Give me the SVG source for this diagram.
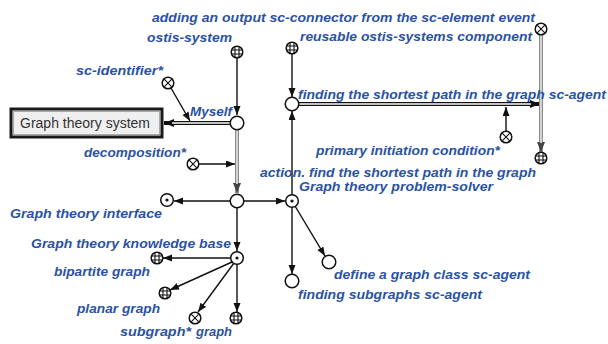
<svg xmlns="http://www.w3.org/2000/svg" xmlns:xlink="http://www.w3.org/1999/xlink" width="608" height="344" viewBox="0 0 608 344">
<style>
.lbl{font-family:"Liberation Sans",Arial,sans-serif;font-weight:bold;font-style:italic;font-size:13.5px;fill:#2a52a3}
.box{font-family:"Liberation Sans",Arial,sans-serif;font-size:14px;fill:#333}
.n{fill:#fff;stroke:#111;stroke-width:1.5}
.e{fill:none;stroke:#111;stroke-width:1.4}
.dbl{fill:none;stroke:#111;stroke-width:4}
.dbli{fill:none;stroke:#fff;stroke-width:1.6}
.gry{fill:none;stroke:#8c8c8c;stroke-width:4}
.gryi{fill:none;stroke:#dcdcdc;stroke-width:1.8}
.sym{fill:none;stroke:#111;stroke-width:1.1}
</style>
<defs>
<marker id="ah" markerUnits="userSpaceOnUse" markerWidth="10" markerHeight="8" refX="9" refY="3.5" orient="auto"><path d="M0,0 L9,3.5 L0,7 z" fill="#111"/></marker>
<marker id="ahd" markerUnits="userSpaceOnUse" markerWidth="11" markerHeight="9" refX="10" refY="4" orient="auto"><path d="M0,0 L10,4 L0,8 z" fill="#111"/></marker>
<marker id="ahg" markerUnits="userSpaceOnUse" markerWidth="11" markerHeight="9" refX="10" refY="4" orient="auto"><path d="M0,0 L10,4 L0,8 z" fill="#444"/></marker>
<g id="grid"><circle r="5.8" class="n"/><path class="sym" d="M-2,-5.2 V5.2 M2,-5.2 V5.2 M-5.2,-2 H5.2 M-5.2,2 H5.2"/></g>
<g id="cross"><circle r="5.8" class="n"/><path class="sym" d="M-3.8,-3.8 L3.8,3.8 M-3.8,3.8 L3.8,-3.8"/></g>
<g id="dot"><circle r="6.3" class="n"/><circle r="1.6" fill="#111"/></g>
<g id="plain"><circle r="6.8" class="n"/></g>
</defs>

<g id="connectors">
<path class="e" d="M237,58 V115" marker-end="url(#ah)"/>
<path class="e" d="M171,88 L190,121" marker-end="url(#ah)"/>
<path class="dbl" d="M230,123 H164" marker-end="url(#ahd)"/>
<path class="dbli" d="M230,123 H172"/>
<path class="gry" d="M237,130 V193" marker-end="url(#ahg)"/>
<path class="gryi" d="M237,130 V184"/>
<path class="e" d="M199,164 H235" marker-end="url(#ah)"/>
<path class="e" d="M230,201 H174" marker-end="url(#ah)"/>
<path class="e" d="M244,201 H285" marker-end="url(#ah)"/>
<path class="e" d="M237,208 V251" marker-end="url(#ah)"/>
<path class="e" d="M231,258 H163" marker-end="url(#ah)"/>
<path class="e" d="M232,262 L170,290" marker-end="url(#ah)"/>
<path class="e" d="M234,263 L198,312" marker-end="url(#ah)"/>
<path class="e" d="M237,264 V312" marker-end="url(#ah)"/>
<path class="e" d="M292,195 V111" marker-end="url(#ah)"/>
<path class="e" d="M292,207 V274" marker-end="url(#ah)"/>
<path class="e" d="M295,206 L325,256" marker-end="url(#ah)"/>
<path class="e" d="M292,54 V97" marker-end="url(#ah)"/>
<path class="dbl" d="M299,104 H540" marker-end="url(#ahd)"/>
<path class="dbli" d="M299,104 H531"/>
<path class="gry" d="M541,35 V152" marker-end="url(#ahg)"/>
<path class="gryi" d="M541,35 V143"/>
<path class="e" d="M506,131 V107" marker-end="url(#ah)"/>
</g>

<text class="lbl" x="152" y="22" textLength="383" lengthAdjust="spacingAndGlyphs">adding an output sc-connector from the sc-element event</text>

<g id="ostis-system"><use xlink:href="#grid" x="237" y="52"/><text class="lbl" x="147" y="42" textLength="85" lengthAdjust="spacingAndGlyphs">ostis-system</text></g>
<g id="reusable-component"><use xlink:href="#grid" x="292" y="48"/><text class="lbl" x="300" y="41" textLength="232" lengthAdjust="spacingAndGlyphs">reusable ostis-systems component</text></g>
<g id="event"><use xlink:href="#cross" x="541" y="29"/></g>
<g id="sc-identifier"><use xlink:href="#cross" x="168" y="83"/><text class="lbl" x="76" y="75" textLength="87" lengthAdjust="spacingAndGlyphs">sc-identifier*</text></g>
<g id="finding-shortest"><use xlink:href="#plain" x="292" y="104"/><text class="lbl" x="298" y="99" textLength="308" lengthAdjust="spacingAndGlyphs">finding the shortest path in the graph sc-agent</text></g>
<g id="myself"><use xlink:href="#plain" x="237" y="123"/><text class="lbl" x="190" y="116" textLength="42" lengthAdjust="spacingAndGlyphs">Myself</text></g>
<g id="graph-theory-system"><rect x="11" y="109" width="151" height="28" fill="#efefef" stroke="#1a1a1a" stroke-width="3"/><rect x="13.5" y="111.5" width="146" height="23" fill="none" stroke="#aaa" stroke-width="1"/><text class="box" x="20" y="128" textLength="130" lengthAdjust="spacingAndGlyphs">Graph theory system</text></g>
<g id="primary-initiation"><use xlink:href="#cross" x="506" y="137"/><text class="lbl" x="316" y="155" textLength="184" lengthAdjust="spacingAndGlyphs">primary initiation condition*</text></g>
<g id="decomposition"><use xlink:href="#cross" x="193" y="164"/><text class="lbl" x="84" y="157" textLength="102" lengthAdjust="spacingAndGlyphs">decomposition*</text></g>
<g id="action"><use xlink:href="#grid" x="541" y="158"/><text class="lbl" x="260" y="177" textLength="276" lengthAdjust="spacingAndGlyphs">action. find the shortest path in the graph</text></g>
<g id="interface"><use xlink:href="#dot" x="167" y="200"/><text class="lbl" x="10" y="218" textLength="152" lengthAdjust="spacingAndGlyphs">Graph theory interface</text></g>
<g id="center"><use xlink:href="#plain" x="237" y="201"/></g>
<g id="problem-solver"><use xlink:href="#dot" x="292" y="201"/><text class="lbl" x="299" y="191" textLength="194" lengthAdjust="spacingAndGlyphs">Graph theory problem-solver</text></g>
<g id="knowledge-base"><use xlink:href="#dot" x="237" y="258"/><text class="lbl" x="31" y="248" textLength="200" lengthAdjust="spacingAndGlyphs">Graph theory knowledge base</text></g>
<g id="bipartite"><use xlink:href="#grid" x="157" y="258"/><text class="lbl" x="54" y="276" textLength="96" lengthAdjust="spacingAndGlyphs">bipartite graph</text></g>
<g id="define-class"><use xlink:href="#plain" x="329" y="262"/><text class="lbl" x="334" y="279" textLength="196" lengthAdjust="spacingAndGlyphs">define a graph class sc-agent</text></g>
<g id="finding-subgraphs"><use xlink:href="#plain" x="292" y="281"/><text class="lbl" x="298" y="299" textLength="184" lengthAdjust="spacingAndGlyphs">finding subgraphs sc-agent</text></g>
<g id="planar"><use xlink:href="#grid" x="165" y="293"/><text class="lbl" x="77" y="313" textLength="83" lengthAdjust="spacingAndGlyphs">planar graph</text></g>
<g id="subgraph"><use xlink:href="#cross" x="195" y="318"/><text class="lbl" x="120" y="336" textLength="71" lengthAdjust="spacingAndGlyphs">subgraph*</text></g>
<g id="graph"><use xlink:href="#grid" x="236" y="318"/><text class="lbl" x="196" y="336" textLength="36" lengthAdjust="spacingAndGlyphs">graph</text></g>
</svg>
